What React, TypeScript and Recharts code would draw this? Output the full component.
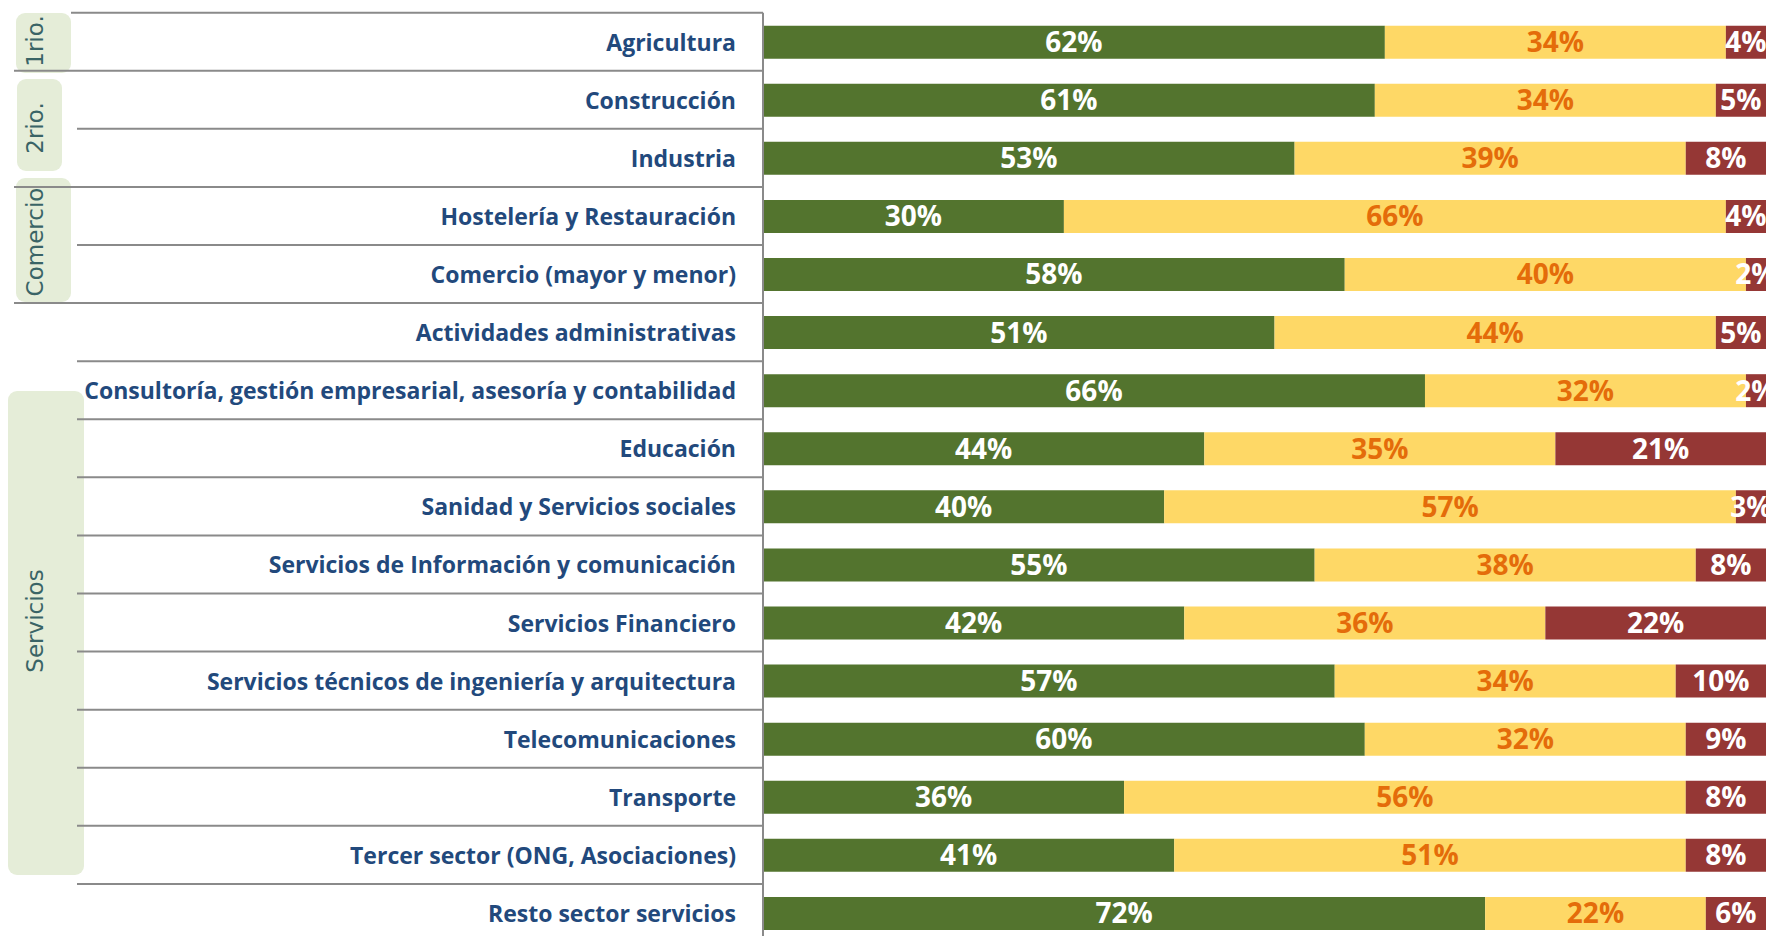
import { BarChart, Bar, XAxis, YAxis, LabelList } from 'recharts';

const sectors = [
  'Agricultura',
  'Construcción',
  'Industria',
  'Hostelería y Restauración',
  'Comercio (mayor y menor)',
  'Actividades administrativas',
  'Consultoría, gestión empresarial, asesoría y contabilidad',
  'Educación',
  'Sanidad y Servicios sociales',
  'Servicios de Información y comunicación',
  'Servicios Financiero',
  'Servicios técnicos de ingeniería y arquitectura',
  'Telecomunicaciones',
  'Transporte',
  'Tercer sector (ONG, Asociaciones)',
  'Resto sector servicios',
];

const favorable = [62, 61, 53, 30, 58, 51, 66, 44, 40, 55, 42, 57, 60, 36, 41, 72];
const neutral = [34, 34, 39, 66, 40, 44, 32, 35, 57, 38, 36, 34, 32, 56, 51, 22];
const unfavorable = [4, 5, 8, 4, 2, 5, 2, 21, 3, 8, 22, 10, 9, 8, 8, 6];

const groups = ['1rio.', '2rio.', 'Comercio', 'Servicios'];
const groupStart = [0, 1, 3, 5];

// rounded boxes behind the group names (pixels)
const groupBoxes = [
  { left: 16, top: 13, width: 55, height: 60, textY: 41 },
  { left: 17, top: 79, width: 45, height: 92, textY: 128 },
  { left: 16, top: 178, width: 55, height: 124, textY: 242 },
  { left: 8, top: 391, width: 76, height: 484, textY: 621 },
];

const data = sectors.map((name, i) => ({
  name,
  fav: favorable[i],
  neu: neutral[i],
  unf: unfavorable[i],
}));

const labelFont = '"Open Sans", "DejaVu Sans", sans-serif';

function SectorTick(props: any) {
  const { x, y, payload, index, height, visibleTicksCount } = props;
  const step = typeof height === 'number' && visibleTicksCount ? height / visibleTicksCount : 929.3 / 16;
  const top = y - step / 2;
  const x0 = index === 0 ? 71 : groupStart.includes(index) ? 14 : 77;
  return (
    <g>
      <line x1={x0} x2={x} y1={top} y2={top} stroke="#8a8a8a" strokeWidth={2} />
      <text
        x={x - 27}
        y={y}
        textAnchor="end"
        dominantBaseline="central"
        fill="#22497c"
        fontFamily={labelFont}
        fontWeight={700}
        fontSize={23}
      >
        {payload.value}
      </text>
    </g>
  );
}

const pct = (v: any) => `${v}%`;

export default function App() {
  return (
    <div
      style={{
        position: 'absolute',
        top: 0,
        left: 0,
        width: 1768,
        height: 936,
        overflow: 'hidden',
        background: '#fff',
      }}
    >
      {groups.map((g, i) => {
        const b = groupBoxes[i];
        return (
          <div
            key={g}
            style={{
              position: 'absolute',
              left: b.left,
              top: b.top,
              width: b.width,
              height: b.height,
              background: '#e5edd8',
              borderRadius: 9,
            }}
          />
        );
      })}
      {groups.map((g, i) => (
        <div
          key={g + '-t'}
          style={{
            position: 'absolute',
            left: 35,
            top: groupBoxes[i].textY,
            transform: 'translate(-50%, -50%) rotate(-90deg)',
            whiteSpace: 'nowrap',
            fontFamily: '"DejaVu Sans", sans-serif',
            fontSize: 23,
            color: '#3a6466',
            lineHeight: 1,
          }}
        >
          {g}
        </div>
      ))}
      <div style={{ position: 'absolute', top: 0, left: 0 }}>
        <BarChart
          width={1768}
          height={942}
          data={data}
          layout="vertical"
          margin={{ top: 12.7, right: 2, left: 0, bottom: 0 }}
        >
          <XAxis type="number" domain={[0, 100]} allowDataOverflow hide />
          <YAxis
            type="category"
            dataKey="name"
            width={763}
            tickSize={0}
            tickMargin={0}
            tickLine={false}
            axisLine={{ stroke: '#8a8a8a', strokeWidth: 2 }}
            tick={<SectorTick />}
            interval={0}
          />
          <Bar dataKey="fav" stackId="s" fill="#53742e" barSize={33} isAnimationActive={false}>
            <LabelList dataKey="fav" position="center" formatter={pct} fill="#ffffff" fontFamily={labelFont} fontWeight={700} fontSize={28} />
          </Bar>
          <Bar dataKey="neu" stackId="s" fill="#fed866" barSize={33} isAnimationActive={false}>
            <LabelList dataKey="neu" position="center" formatter={pct} fill="#e46c0a" fontFamily={labelFont} fontWeight={700} fontSize={28} />
          </Bar>
          <Bar dataKey="unf" stackId="s" fill="#953735" barSize={33} isAnimationActive={false}>
            <LabelList dataKey="unf" position="center" formatter={pct} fill="#ffffff" fontFamily={labelFont} fontWeight={700} fontSize={28} />
          </Bar>
        </BarChart>
      </div>
    </div>
  );
}
